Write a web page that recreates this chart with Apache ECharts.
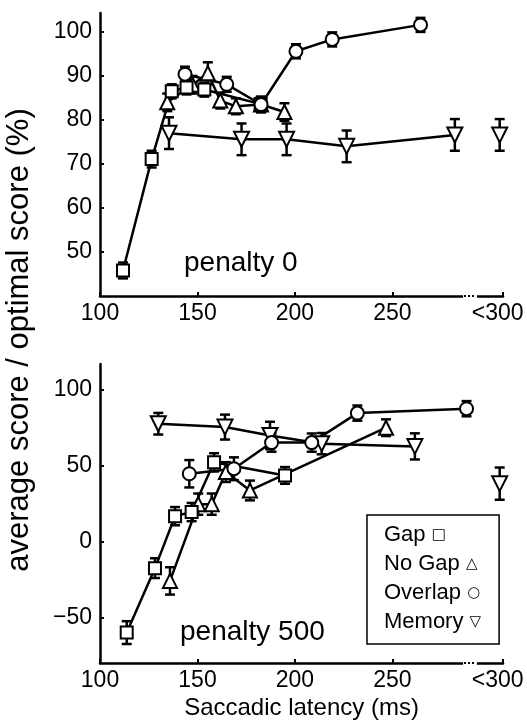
<!DOCTYPE html>
<html>
<head>
<meta charset="utf-8">
<script src="https://cdn.jsdelivr.net/npm/echarts@6/dist/echarts.min.js"></script>
<style>
  html, body { margin: 0; padding: 0; background: #fff; }
  #chart { width: 527px; height: 724px; }
</style>
</head>
<body>
<div id="chart"></div>
<script>
// x position used for the "<300" bin
var OUT_X = 305;
var xTicks = [100, 150, 200, 250, 306.7];
var xLabels = [100, 150, 200, 250, 304];
var topTicks = [50, 60, 70, 80, 90, 100];
var botTicks = [-50, 0, 50, 100];

// penalty 0
var gap0X = [111.8, 126.5, 136.8, 144.4, 153.5, 182.4];
var gap0Y = [45.8, 71.1, 86.5, 87.4, 86.9, 83.6];
var gap0E = [1.8, 1.9, 1.6, 1.6, 1.6, 1.6];
var nogap0X = [134.5, 147.5, 155.3, 161.7, 169.7, 182.6, 194.6];
var nogap0Y = [84.0, 88.0, 90.6, 84.4, 83.1, 83.5, 81.8];
var nogap0E = [2.0, 2.0, 2.5, 1.8, 1.8, 1.8, 2.0];
var overlap0X = [143.6, 165.0, 182.6, 200.5, 219.1, 264.4];
var overlap0Y = [90.4, 88.1, 83.5, 95.6, 98.3, 101.6];
var overlap0E = [1.7, 1.7, 1.6, 1.6, 1.6, 1.6];
var memory0X = [135.4, 172.6, 195.7, 226.5, 282.0, OUT_X];
var memory0Y = [77.0, 75.6, 75.6, 74.0, 76.6, 76.6];
var memory0E = [3.6, 3.6, 3.6, 3.6, 3.6, 3.6];

// penalty 500
var gap5X = [113.7, 128.2, 138.5, 147.0, 158.5, 194.9];
var gap5Y = [-60.0, -17.6, 16.6, 19.3, 52.0, 43.4];
var gap5E = [7.5, 6.5, 6.0, 6.0, 6.0, 5.5];
var nogap5X = [135.9, 150.4, 157.3, 164.6, 176.9, 246.7];
var nogap5Y = [-26.0, 24.5, 24.5, 45.6, 33.5, 74.8];
var nogap5E = [9.0, 7.0, 7.0, 6.5, 6.5, 5.5];
var overlap5X = [145.8, 168.7, 188.0, 208.6, 232.0, 288.0];
var overlap5Y = [44.5, 47.8, 65.0, 65.0, 84.4, 87.3];
var overlap5E = [9.0, 7.5, 6.0, 6.0, 5.0, 5.0];
var memory5X = [129.9, 164.1, 187.2, 213.7, 261.5, OUT_X];
var memory5Y = [77.4, 75.2, 69.7, 64.3, 62.5, 38.0];
var memory5E = [7.1, 8.2, 9.0, 7.0, 8.6, 10.6];

var legendNames = ['Gap', 'No Gap', 'Overlap', 'Memory'];
var legendGlyphs = ['\u25A1', '\u25B3', '\u25CB', '\u25BD'];

var FONT = 'Liberation Sans, Arial, sans-serif';

function pts(xs, ys) {
  return xs.map(function (x, i) { return [x, ys[i]]; });
}
function errPts(xs, ys, es) {
  return xs.map(function (x, i) { return [x, ys[i], es[i]]; });
}

function errorSeries(idx, xs, ys, es) {
  return {
    type: 'custom',
    xAxisIndex: idx,
    yAxisIndex: idx,
    silent: true,
    z: 1,
    data: errPts(xs, ys, es),
    renderItem: function (params, api) {
      var x = api.value(0), y = api.value(1), e = api.value(2);
      var hi = api.coord([x, y + e]);
      var lo = api.coord([x, y - e]);
      var st = { stroke: '#000', lineWidth: 2.5 };
      return {
        type: 'group',
        children: [
          { type: 'line', shape: { x1: hi[0], y1: hi[1], x2: lo[0], y2: lo[1] }, style: st },
          { type: 'line', shape: { x1: hi[0] - 5, y1: hi[1], x2: hi[0] + 5, y2: hi[1] }, style: st },
          { type: 'line', shape: { x1: lo[0] - 5, y1: lo[1], x2: lo[0] + 5, y2: lo[1] }, style: st }
        ]
      };
    }
  };
}

function lineSeries(idx, name, symbol, size, rotate, data, showLine) {
  return {
    type: 'line',
    name: name,
    xAxisIndex: idx,
    yAxisIndex: idx,
    data: data,
    symbol: symbol,
    symbolSize: size,
    symbolRotate: rotate,
    showSymbol: true,
    z: 3,
    lineStyle: { color: '#000', width: 2.5, opacity: showLine ? 1 : 0 },
    itemStyle: { color: '#fff', borderColor: '#000', borderWidth: 2 },
    emphasis: { disabled: true }
  };
}

function panelSeries(idx, g, n, o, m) {
  var list = [];
  list.push(errorSeries(idx, g[0], g[1], g[2]));
  list.push(errorSeries(idx, n[0], n[1], n[2]));
  list.push(errorSeries(idx, o[0], o[1], o[2]));
  list.push(errorSeries(idx, m[0], m[1], m[2]));
  list.push(lineSeries(idx, 'Memory', 'triangle', 15, 180, pts(m[0].slice(0, -1), m[1].slice(0, -1)), true));
  list.push(lineSeries(idx, 'Memory', 'triangle', 15, 180, pts(m[0].slice(-1), m[1].slice(-1)), false));
  list.push(lineSeries(idx, 'No Gap', 'triangle', 14, 0, pts(n[0], n[1]), true));
  list.push(lineSeries(idx, 'Gap', 'rect', 12, 0, pts(g[0], g[1]), true));
  list.push(lineSeries(idx, 'Overlap', 'circle', 13, 0, pts(o[0], o[1]), true));
  return list;
}

function xAxis(idx, withName) {
  var ax = {
    type: 'value',
    gridIndex: idx,
    min: 100,
    max: 306.7,
    axisLine: { show: true, onZero: false, lineStyle: { color: '#000', width: 2.5 } },
    axisTick: { show: true, inside: true, length: 4, customValues: xTicks, lineStyle: { color: '#000', width: 2 } },
    axisLabel: {
      customValues: xLabels,
      color: '#000', fontSize: 23, fontFamily: FONT, margin: 6,
      formatter: function (v) { return v > 300 ? '<300' : String(v); }
    },
    splitLine: { show: false }
  };
  if (withName) {
    ax.name = 'Saccadic latency (ms)';
    ax.nameLocation = 'middle';
    ax.nameGap = 33;
    ax.nameTextStyle = { color: '#000', fontSize: 24, fontFamily: FONT };
  }
  return ax;
}

function yAxis(idx, min, max, ticks) {
  return {
    type: 'value',
    gridIndex: idx,
    min: min,
    max: max,
    axisLine: { show: true, onZero: false, lineStyle: { color: '#000', width: 2.5 } },
    axisTick: { show: true, inside: true, length: 4, customValues: ticks, lineStyle: { color: '#000', width: 2 } },
    axisLabel: {
      customValues: ticks,
      color: '#000', fontSize: 23, fontFamily: FONT, margin: 8,
      formatter: function (v) { return String(v).replace('-', '\u2212'); }
    },
    splitLine: { show: false }
  };
}

var chart = echarts.init(document.getElementById('chart'), null, { renderer: 'canvas' });

var series = panelSeries(0,
  [gap0X, gap0Y, gap0E], [nogap0X, nogap0Y, nogap0E],
  [overlap0X, overlap0Y, overlap0E], [memory0X, memory0Y, memory0E]
).concat(panelSeries(1,
  [gap5X, gap5Y, gap5E], [nogap5X, nogap5Y, nogap5E],
  [overlap5X, overlap5Y, overlap5E], [memory5X, memory5Y, memory5E]
));

chart.setOption({
  animation: false,
  backgroundColor: '#fff',
  grid: [
    { left: 100, top: 13, width: 403, height: 283 },
    { left: 100, top: 364, width: 403, height: 299 }
  ],
  xAxis: [xAxis(0, false), xAxis(1, true)],
  yAxis: [yAxis(0, 40, 104.3, topTicks), yAxis(1, -80, 116.7, botTicks)],
  title: [
    { text: 'penalty 0', left: 184, top: 249, padding: 0,
      textStyle: { color: '#000', fontSize: 28, fontWeight: 'normal', fontFamily: FONT } },
    { text: 'penalty 500', left: 180, top: 618, padding: 0,
      textStyle: { color: '#000', fontSize: 28, fontWeight: 'normal', fontFamily: FONT } }
  ],
  legend: {
    orient: 'vertical',
    left: 367,
    top: 515,
    padding: [9, 18, 11, 12],
    itemGap: 7,
    itemWidth: 0,
    itemHeight: 10,
    icon: 'none',
    borderColor: '#000',
    borderWidth: 1.5,
    selectedMode: false,
    data: legendNames,
    formatter: function (name) {
      return name + ' {i|' + legendGlyphs[legendNames.indexOf(name)] + '}';
    },
    textStyle: {
      color: '#000', fontSize: 22, fontFamily: FONT,
      rich: { i: { fontSize: 15, fontFamily: 'DejaVu Sans', color: '#000' } }
    }
  },
  series: series
});

// y title shared by both panels, and the broken-axis dots near "<300"
var extras = [];
[0, 1].forEach(function (i) {
  var a = chart.convertToPixel({ xAxisIndex: i, yAxisIndex: i }, [286.2, i === 0 ? 40 : -80]);
  var b = chart.convertToPixel({ xAxisIndex: i, yAxisIndex: i }, [293.3, i === 0 ? 40 : -80]);
  extras.push({ type: 'rect', z: 100, shape: { x: a[0], y: a[1] - 3, width: b[0] - a[0], height: 6 },
    style: { fill: '#fff' } });
  extras.push({ type: 'line', z: 101, shape: { x1: a[0] + 1, y1: a[1], x2: b[0] - 1, y2: b[1] },
    style: { stroke: '#000', lineWidth: 2, lineDash: [2, 2] } });
});
extras.push({
  type: 'text', z: 100, x: 19, y: 340, rotation: Math.PI / 2,
  style: { text: 'average score / optimal score (%)', fill: '#000', fontSize: 31,
    fontFamily: FONT, align: 'center', verticalAlign: 'middle' }
});
chart.setOption({ graphic: extras });
</script>
</body>
</html>
